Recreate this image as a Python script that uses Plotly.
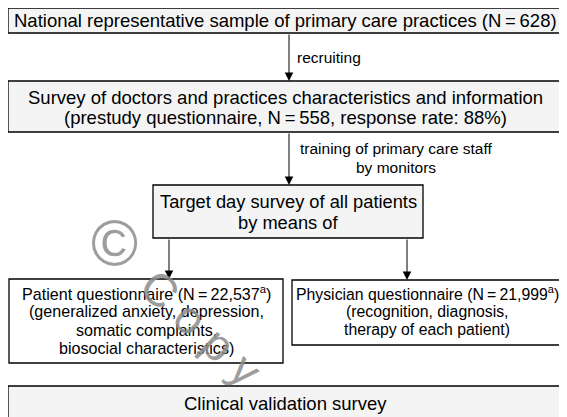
import plotly.graph_objects as go

# flowchart content
box_lines = [
    ["National representative sample of primary care practices (N\u2009=\u2009628)"],
    ["Survey of doctors and practices characteristics and information",
     "(prestudy questionnaire, N\u2009=\u2009558, response rate: 88%)"],
    ["Target day survey of all patients", "by means of"],
    ["Patient questionnaire (N\u2009=\u200922,537<sup>a</sup>)",
     "(generalized anxiety, depression,",
     "somatic complaints,",
     "biosocial characteristics)"],
    ["Physician questionnaire (N\u2009=\u200921,999<sup>a</sup>)",
     "(recognition, diagnosis,",
     "therapy of each patient)"],
    ["Clinical validation survey"],
]
edge_labels = [
    ["recruiting"],
    ["training of primary care staff", "by monitors"],
]
watermark = ["\u00a9", "C o p y"]

# layout of the boxes (page pixels): x0, x1, y0, y1, first line y, line gap, font size, fill
box_geom = [
    (8, 562, 8, 33, 20.5, 0, 18.5, "#f4f4f4"),
    (8, 562, 81, 132, 97, 20, 18.5, "#f4f4f4"),
    (153, 423, 185, 238, 201, 21, 18.3, "#f4f4f4"),
    (9, 283, 279, 363, 293, 18.4, 16.1, "white"),
    (292, 562, 280, 345, 293, 18.4, 15.8, "white"),
    (8, 562, 386, 440, 403, 0, 18.5, "#f4f4f4"),
]
# arrows: x, y tail, y tip
arrow_geom = [(289, 33, 81), (289, 132, 185), (169, 238, 279), (407, 238, 280)]

FONT = "Liberation Sans, Arial, sans-serif"

fig = go.Figure()
shapes = []
annotations = []

for lines, (x0, x1, y0, y1, ty, gap, fs, fill) in zip(box_lines, box_geom):
    shapes.append(dict(type="rect", xref="x", yref="y", x0=x0, x1=x1, y0=y0, y1=y1,
                       line=dict(color="black", width=1.3), fillcolor=fill, layer="below"))
    for i, t in enumerate(lines):
        annotations.append(dict(x=(x0 + x1) / 2, y=ty + i * gap, xref="x", yref="y",
                                text=t, showarrow=False, xanchor="center", yanchor="middle",
                                font=dict(family=FONT, size=fs, color="black")))

for x, ya, yb in arrow_geom:
    annotations.append(dict(x=x, y=yb, ax=x, ay=ya, xref="x", yref="y", axref="x", ayref="y",
                            text="", showarrow=True, arrowhead=2, arrowsize=1.7,
                            arrowwidth=1, arrowcolor="black", standoff=0))

# edge labels
annotations.append(dict(x=295, y=57, xref="x", yref="y", text=edge_labels[0][0],
                        showarrow=False, xanchor="left", yanchor="middle",
                        font=dict(family=FONT, size=15.5, color="black")))
for i, t in enumerate(edge_labels[1]):
    annotations.append(dict(x=396, y=148 + i * 19, xref="x", yref="y", text=t,
                            showarrow=False, xanchor="center", yanchor="middle",
                            font=dict(family=FONT, size=15.5, color="black")))

# watermark
annotations.append(dict(x=114, y=243, xref="x", yref="y", text=watermark[0],
                        showarrow=False, xanchor="center", yanchor="middle",
                        font=dict(family=FONT, size=64, color="rgba(140,140,140,0.85)")))
annotations.append(dict(x=201, y=328, xref="x", yref="y", text=watermark[1],
                        showarrow=False, xanchor="center", yanchor="middle", textangle=43,
                        font=dict(family=FONT, size=46, color="rgba(140,140,140,0.85)")))

# the page body has an 8px margin, so the axes start at 8 to keep page pixels
fig.update_layout(
    width=567, height=417,
    margin=dict(l=0, r=0, t=0, b=0),
    paper_bgcolor="white", plot_bgcolor="white",
    xaxis=dict(range=[8, 575], visible=False, fixedrange=True),
    yaxis=dict(range=[425, 8], visible=False, fixedrange=True),
    shapes=shapes,
    annotations=annotations,
    showlegend=False,
)

fig.write_html("out.html", config=dict(displayModeBar=False))
